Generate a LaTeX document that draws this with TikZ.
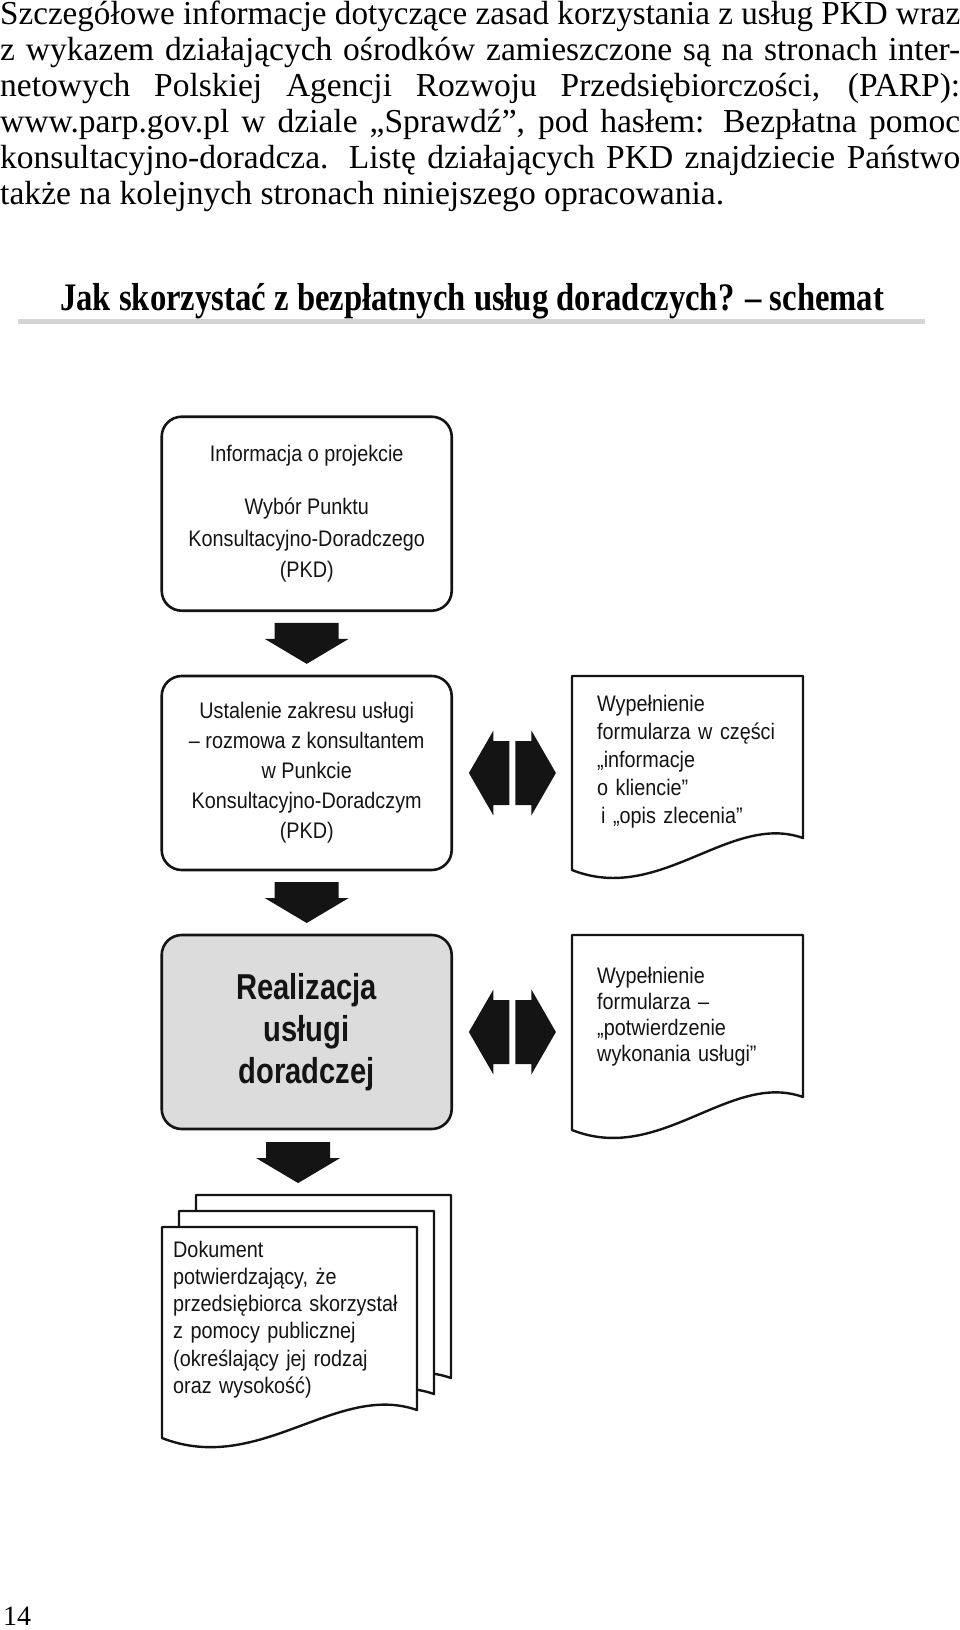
\documentclass[tikz,border=0pt]{standalone}
\usepackage{fontspec}
\usepackage{graphicx}
\setmainfont{Liberation Serif}
\newfontfamily\cond[FakeStretch=0.88]{Liberation Sans}
\newfontfamily\condbf[FakeStretch=0.81]{Liberation Sans Bold}
\usetikzlibrary{calc}
\definecolor{boxgray}{HTML}{DCDCDC}
\definecolor{rulegray}{HTML}{D4D4D4}
\definecolor{ink}{HTML}{141414}

\newsavebox\jlinebox
\newcommand\jline[1]{\sbox\jlinebox{#1}%
  \ifdim\wd\jlinebox>960pt \resizebox{960pt}{\height}{\usebox\jlinebox}\else\makebox[960pt][s]{#1}\fi}

\newcommand\docshp[5]{% x0, top y, x1, right bottom y, left bottom y
  \filldraw[docline] (#1,#2) -- (#3,#2) -- (#3,#4)
    .. controls ({#3-0.316*(#3-#1)},{#4-0.134*(#5-#2)}) and ({#1+0.381*(#3-#1)},{#5+0.18*(#5-#2)}) .. (#1,#5) -- cycle;}

\tikzset{
  para/.style={anchor=base west, inner sep=0pt, font=\fontsize{33.5}{36}\selectfont},
  stepbox/.style={draw=ink, line width=2.6pt, rounded corners=20pt, minimum width=290pt,
    minimum height=194pt, inner sep=0pt, align=center, text=ink,
    font=\cond\fontsize{22.5}{31.5}\selectfont},
  docline/.style={draw=ink, fill=white, line width=2.4pt, line join=round},
  doctext/.style={anchor=base west, inner sep=0pt, text width=240pt, align=left, text=ink},
  docarea/.style={inner sep=0pt, draw=none},
  downarrow/.pic={\fill[ink] (-32,0) -- (32,0) -- (32,16) -- (42,16) -- (0,41) -- (-42,16) -- (-32,16) -- cycle;},
  dblarrow/.pic={\fill[ink] (-3,-32) -- (-19,-32) -- (-19,-42.5) -- (-43.5,0) -- (-19,42.5) -- (-19,32) -- (-3,32) -- cycle;
                 \fill[ink] (3,-32) -- (19,-32) -- (19,-42.5) -- (43.5,0) -- (19,42.5) -- (19,32) -- (3,32) -- cycle;}
}

\begin{document}
\begin{tikzpicture}[x=1pt,y=-1pt]
\useasboundingbox (0,0) rectangle (960,1630);

% paragraph
\node[para] (p1) at (0,24) {\jline{Szczegółowe informacje dotyczące zasad korzystania z usług PKD wraz}};
\node[para] (p2) at (0,60) {\jline{z wykazem działających ośrodków zamieszczone są na stronach inter-}};
\node[para] (p3) at (0,96) {\jline{netowych Polskiej Agencji Rozwoju Przedsiębiorczości, (PARP):}};
\node[para] (p4) at (0,132) {\jline{www.parp.gov.pl w dziale „Sprawdź”, pod hasłem: Bezpłatna pomoc}};
\node[para] (p5) at (0,168) {\jline{konsultacyjno-doradcza. Listę działających PKD znajdziecie Państwo}};
\node[para] (p6) at (0,204) {\resizebox{724pt}{\height}{także na kolejnych stronach niniejszego opracowania.}};

% title
\node[anchor=base west, inner sep=0pt] (title) at (60,310)
  {\resizebox{824pt}{\height}{\bfseries\fontsize{39}{44}\selectfont Jak skorzystać z bezpłatnych usług doradczych? – schemat}};
\draw[rulegray, line width=5pt] (18,321) -- (925,321);

% main boxes
\node[stepbox] (b1) at (306.7,513.7)
  {Informacja o projekcie\\[21.5pt] Wybór Punktu\\ Konsultacyjno-Doradczego\\ (PKD)};
\node[stepbox, font=\cond\fontsize{22.5}{30}\selectfont] (b2) at (306.7,773)
  {Ustalenie zakresu usługi\\ – rozmowa z konsultantem\\ w Punkcie\\ Konsultacyjno-Doradczym\\ (PKD)};
\node[stepbox, fill=boxgray, font=\condbf\fontsize{36}{42}\selectfont] (b3) at (306.7,1032)
  {Realizacja\\ usługi\\ doradczej};

% right documents
\node[docarea, minimum width=231pt, minimum height=194pt] (docA) at (687.5,773) {};
\docshp{572}{676}{803}{838}{870}
\node[doctext, font=\cond\fontsize{22.5}{28}\selectfont] (docAtxt) at (597,711)
  {Wypełnienie\\ formularza w części\\ „informacje\\ o kliencie”\\ \hspace*{4pt}i „opis zlecenia”};

\node[docarea, minimum width=231pt, minimum height=195pt] (docB) at (687.5,1032) {};
\docshp{572}{935}{803}{1097}{1130}
\node[doctext, font=\cond\fontsize{22.5}{26}\selectfont] (docBtxt) at (597,983)
  {Wypełnienie\\ formularza –\\ „potwierdzenie\\ wykonania usługi”};

% document stack
\docshp{196}{1195}{451}{1378}{1406}
\docshp{179}{1211}{434}{1394}{1422}
\node[docarea, minimum width=255pt, minimum height=211pt] (stack) at (289.5,1332.5) {};
\docshp{162}{1227}{417}{1410}{1438}
\node[doctext, font=\cond\fontsize{22.5}{27.3}\selectfont] (stacktxt) at (173,1257)
  {Dokument\\ potwierdzający, że\\ przedsiębiorca skorzystał\\ z pomocy publicznej\\ (określający jej rodzaj\\ oraz wysokość)};

% block arrows
\pic at ($(b1.south)!0.5!(b2.north)+(0,-20.5)$) {downarrow};
\pic at ($(b2.south)!0.5!(b3.north)+(0,-20.5)$) {downarrow};
\pic at ($(b3.south)!0.5!(stack.north)+(0,-20.5)+(0,-16)$) {downarrow};
\pic at ($(b2.east)!0.5!(docA.west)$) {dblarrow};
\pic at ($(b3.east)!0.5!(docB.west)$) {dblarrow};

% page number
\node[anchor=base west, inner sep=0pt, font=\fontsize{28}{32}\selectfont] (pagenum) at (3,1625) {14};
\end{tikzpicture}
\end{document}
